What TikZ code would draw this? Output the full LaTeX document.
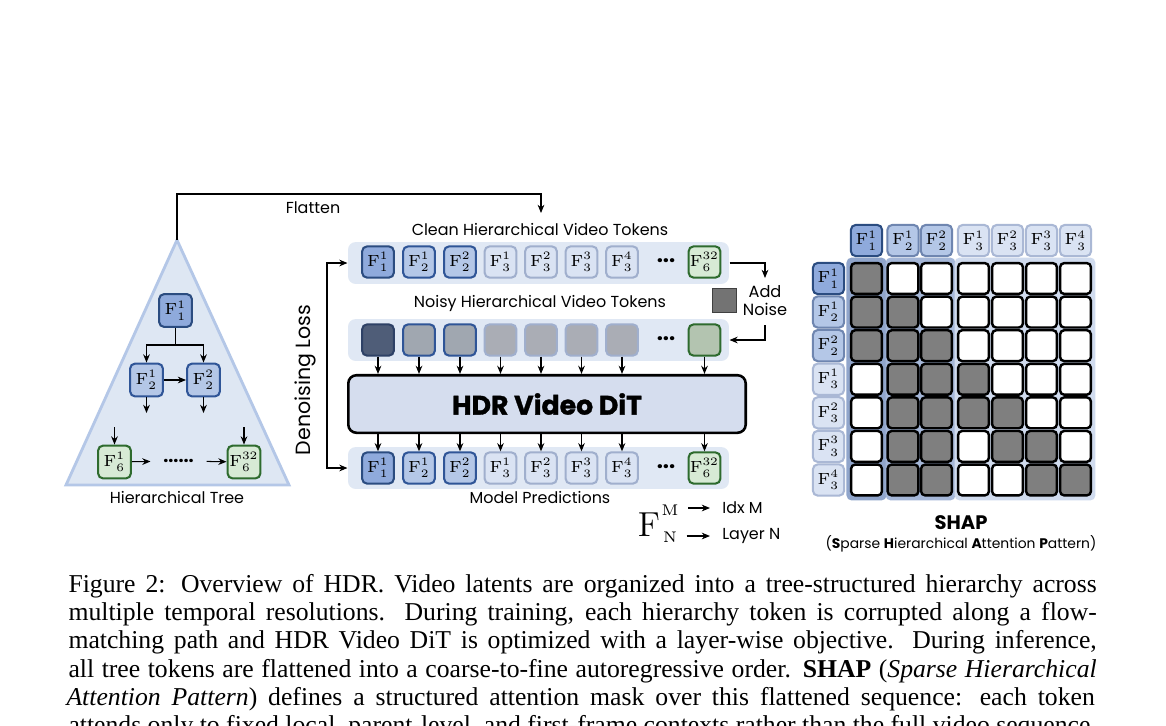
\RequirePackage{fix-cm}
\documentclass[tikz,border=0pt]{standalone}
\usepackage[no-math]{fontspec}
\setmainfont{Liberation Serif}
\newfontfamily\pop{Poppins}
\newfontfamily\popheavy{Poppins}[BoldFeatures={FakeBold=1.2}]
\usetikzlibrary{arrows.meta,calc}
\definecolor{aFill}{HTML}{8FAADC}\definecolor{aLine}{HTML}{2B4C80}
\definecolor{bFill}{HTML}{B4C7E7}\definecolor{bLine}{HTML}{2F5597}
\definecolor{cFill}{HTML}{DAE3F3}\definecolor{cLine}{HTML}{A0AFCD}
\definecolor{gFill}{HTML}{D7EAD5}\definecolor{gLine}{HTML}{2E6B2E}
\definecolor{rowBg}{HTML}{E0E8F4}
\definecolor{treeFill}{HTML}{DEE7F3}\definecolor{treeLine}{HTML}{B4C7E7}
\definecolor{ditFill}{HTML}{D5DDEE}
\definecolor{nA}{HTML}{4F5D78}\definecolor{nAl}{HTML}{2E4166}
\definecolor{nB}{HTML}{A0A7B0}
\definecolor{nC}{HTML}{AAADB5}
\definecolor{nG}{HTML}{B3C4B0}
\definecolor{cellGray}{HTML}{7F7F7F}
\definecolor{grpA}{HTML}{90A5CB}\definecolor{grpB}{HTML}{A5B7D8}\definecolor{grpC}{HTML}{D0DBEE}
\definecolor{hbLine}{HTML}{6F86B0}\definecolor{hcLine}{HTML}{AAB8D5}
\newcommand\Fm[2]{$\mathrm{F}^{#1}_{#2}$}
\newcommand\tokfont{\fontsize{6.3}{7}\selectfont}
\newcommand\labfont{\pop\fontsize{6.2}{7}\selectfont}
\tikzset{
  arr/.style={-{Stealth[length=3.2pt,width=2.6pt]}, line width=0.4pt},
  tokbase/.style={rounded corners=2pt, minimum width=12.4pt, minimum height=12.2pt, line width=0.8pt, inner sep=0pt, font=\tokfont},
  lv1/.style={tokbase, fill=aFill, draw=aLine},
  lv2/.style={tokbase, fill=bFill, draw=bLine},
  lv3/.style={tokbase, fill=cFill, draw=cLine},
  lvg/.style={tokbase, fill=gFill, draw=gLine},
  nz1/.style={tokbase, fill=nA, draw=nAl},
  nz2/.style={tokbase, fill=nB, draw=bLine},
  nz3/.style={tokbase, fill=nC, draw=cLine},
  nzg/.style={tokbase, fill=nG, draw=gLine},
  treetok/.style={minimum width=12.8pt, minimum height=12.8pt},
  rowbox/.style={rounded corners=3pt, fill=rowBg, minimum width=148.2pt, minimum height=16.3pt, inner sep=0pt},
  lab/.style={font=\labfont, inner sep=1pt},
  dots/.style={font=\pop\bfseries\fontsize{8.5}{8}\selectfont, inner sep=0pt},
  cellbox/.style={rounded corners=1.6pt, minimum size=12.0pt, line width=0.95pt, draw=black, inner sep=0pt},
  hdr/.style={rounded corners=2pt, minimum size=12.2pt, line width=0.8pt, inner sep=0pt, font=\tokfont},
  hA/.style={hdr, fill=aFill, draw=aLine},
  hB/.style={hdr, fill=bFill, draw=hbLine},
  hC/.style={hdr, fill=cFill, draw=hcLine},
  grp/.style={rounded corners=2pt, inner sep=0pt, minimum height=94.5pt},
}
\begin{document}
\begin{tikzpicture}[x=0.389pt,y=-0.389pt]
\useasboundingbox (0,0) rectangle (1166,725);
\fill[white] (0,0) rectangle (1166,725);
\clip (0,0) rectangle (1166,725);

% ---------------- tree ----------------
\draw[draw=treeLine, fill=treeFill, line width=1.1pt, line join=miter] (177,240) coordinate (tapex) -- (289,485) -- (66,485) -- cycle;
\node[lv1,treetok] (t11) at (175.5,310.5) {\Fm11};
\node[lv2,treetok] (t21) at (146.5,380) {\Fm12};
\node[lv2,treetok] (t22) at (203.5,380) {\Fm22};
\node[lvg,treetok] (t61) at (114.5,462) {\Fm16};
\node[lvg,treetok] (t632) at (244,462) {\Fm{32}6};
\coordinate (tj) at (175.5,345);
\draw[line width=0.4pt] (t11.south) -- (tj);
\draw[arr] (tj) -| (t21.north);
\draw[arr] (tj) -| (t22.north);
\draw[arr] (t21) -- (t22);
\coordinate (td1) at (146.5,413); \coordinate (td2) at (203.5,413);
\draw[arr] (t21.south) -- (td1);
\draw[arr] (t22.south) -- (td2);
\coordinate (tu1) at (114.5,427); \coordinate (tu2) at (244,427);
\draw[arr] (tu1) -- (t61.north);
\draw[arr] (tu2) -- (t632.north);
\node[font=\pop\bfseries\fontsize{7}{7}\selectfont, inner sep=0pt, minimum width=21.4pt] (tdots) at (178.5,461) {......};
\draw[arr] (t61) -- (tdots);
\draw[arr] (tdots) -- (t632);
\node[lab] (treelbl) at (177,497) {Hierarchical Tree};

% flatten
\coordinate (flatend) at (541,213);
\draw[arr] (tapex) -- (177,194) -| (flatend);
\node[lab] (flatlbl) at (313,208) {Flatten};

% ---------------- rows ----------------
\node[lab] (cleanlbl) at (540,229) {Clean Hierarchical Video Tokens};
\node[rowbox] (cleanbg) at (538.5,263) {};
\node[lv1] (c1) at (378,262) {\Fm11};
\node[lv2] (c2) at (419,262) {\Fm12};
\node[lv2] (c3) at (460,262) {\Fm22};
\node[lv3] (c4) at (500.5,262) {\Fm13};
\node[lv3] (c5) at (541,262) {\Fm23};
\node[lv3] (c6) at (581.5,262) {\Fm33};
\node[lv3] (c7) at (622,262) {\Fm43};
\node[dots] (c8) at (666,261) {...};
\node[lvg] (c9) at (704.5,262) {\Fm{32}6};

\node[lab] (noisylbl) at (540,303) {Noisy Hierarchical Video Tokens};
\node[rowbox] (noisybg) at (538.5,340) {};
\node[nz1] (n1) at (378,340) {};
\node[nz2] (n2) at (419,340) {};
\node[nz2] (n3) at (460,340) {};
\node[nz3] (n4) at (500.5,340) {};
\node[nz3] (n5) at (541,340) {};
\node[nz3] (n6) at (581.5,340) {};
\node[nz3] (n7) at (622,340) {};
\node[dots] (n8) at (666,339) {...};
\node[nzg] (n9) at (704.5,340) {};

% add noise
\coordinate (an1) at (765,263); \coordinate (an2) at (765,278); \coordinate (an3) at (765,325);
\draw[arr] (cleanbg.east) -- (an1) -- (an2);
\draw[arr] (an3) |- (noisybg.east);
\node[draw=black!75, fill=black!55, line width=0.3pt, minimum size=9.4pt, inner sep=0pt] (nsq) at (724.5,300.5) {};
\node[font=\pop\fontsize{6.3}{7}\selectfont, align=center, inner sep=0pt] (addn) at (765,301) {Add\\Noise};

% DiT
\node[draw=black, fill=ditFill, line width=1pt, rounded corners=3.2pt, minimum width=154.6pt, minimum height=22.4pt, inner sep=0pt, font=\popheavy\bfseries\fontsize{10.4}{11}\selectfont] (dit) at (547,404) {HDR Video DiT};
\foreach \i in {1,...,7,9}{
  \draw[arr] (n\i.south) -- (n\i.south |- dit.north);
}

\node[rowbox] (predbg) at (538.5,468) {};
\node[lv1] (p1) at (378,468) {\Fm11};
\node[lv2] (p2) at (419,468) {\Fm12};
\node[lv2] (p3) at (460,468) {\Fm22};
\node[lv3] (p4) at (500.5,468) {\Fm13};
\node[lv3] (p5) at (541,468) {\Fm23};
\node[lv3] (p6) at (581.5,468) {\Fm33};
\node[lv3] (p7) at (622,468) {\Fm43};
\node[dots] (p8) at (666,467) {...};
\node[lvg] (p9) at (704.5,468) {\Fm{32}6};
\foreach \i in {1,...,7,9}{
  \draw[arr] (p\i.north |- dit.south) -- (p\i.north);
}
\node[lab] (predlbl) at (540,497) {Model Predictions};

% denoising loss
\coordinate (dlt) at (327,263); \coordinate (dlb) at (327,468);
\draw[{Stealth[length=3.2pt,width=2.6pt]}-{Stealth[length=3.2pt,width=2.6pt]}, line width=0.4pt] (cleanbg.west) -- (dlt) -- (dlb) -- (predbg.west);
\node[font=\pop\fontsize{8}{9}\selectfont, rotate=90, inner sep=0pt] (dllbl) at (305,380) {Denoising Loss};

% legend
\node[font=\fontsize{13.5}{14}\selectfont, inner sep=0pt] (legF) at (649,525) {$\mathrm{F}$};
\node[font=\fontsize{6}{6}\selectfont, inner sep=0.5pt] (legM) at (670,510) {$\mathrm{M}$};
\node[font=\fontsize{6}{6}\selectfont, inner sep=0.5pt] (legN) at (670,537) {$\mathrm{N}$};
\node[lab, anchor=west, inner xsep=4.6pt] (idx) at (710,508) {Idx M};
\node[lab, anchor=west, inner xsep=4.6pt] (layer) at (710,536) {Layer N};
\draw[arr] (legM.east |- idx.west) ++(8,0) -- (idx.west);
\draw[arr] (legN.east |- layer.west) ++(8,0) -- (layer.west);

% ---------------- SHAP ----------------
\def\cxs{{866.5,903,936.5,973.5,1007.5,1041.5,1075.5}}
\node[grp, fill=grpA, minimum width=15.6pt] (g1) at (866.5,379) {};
\node[grp, fill=grpB, minimum width=27.2pt] (g2) at (920.5,379) {};
\node[grp, fill=grpC, minimum width=54.8pt] (g3) at (1025,379) {};

\node[hA] (hc1) at (866.5,240.5) {\Fm11};
\node[hB] (hc2) at (903,240.5) {\Fm12};
\node[hB] (hc3) at (936.5,240.5) {\Fm22};
\node[hC] (hc4) at (973.5,240.5) {\Fm13};
\node[hC] (hc5) at (1007.5,240.5) {\Fm23};
\node[hC] (hc6) at (1041.5,240.5) {\Fm33};
\node[hC] (hc7) at (1075.5,240.5) {\Fm43};

\node[hA] (hr1) at (828.5,278.5) {\Fm11};
\node[hB] (hr2) at (828.5,312) {\Fm12};
\node[hB] (hr3) at (828.5,345.6) {\Fm22};
\node[hC] (hr4) at (828.5,379.2) {\Fm13};
\node[hC] (hr5) at (828.5,412.8) {\Fm23};
\node[hC] (hr6) at (828.5,446.4) {\Fm33};
\node[hC] (hr7) at (828.5,480) {\Fm43};

\foreach \r/\row in {1/{1,0,0,0,0,0,0},2/{1,1,0,0,0,0,0},3/{1,1,1,0,0,0,0},4/{0,1,1,1,0,0,0},5/{0,1,1,1,1,0,0},6/{0,1,1,0,1,1,0},7/{0,1,1,0,0,1,1}}{
  \foreach \v [count=\c] in \row {
    \pgfmathsetmacro\cx{\cxs[\c-1]}
    \pgfmathsetmacro\ry{278.5+(\r-1)*33.58}
    \ifnum\v=1
      \node[cellbox, fill=cellGray] (m\r-\c) at (\cx,\ry) {};
    \else
      \node[cellbox, fill=white] (m\r-\c) at (\cx,\ry) {};
    \fi
  }
}
\node[font=\pop\bfseries\fontsize{7.6}{8}\selectfont, inner sep=0pt] (shap) at (961,523) {SHAP};
\node[font=\pop\fontsize{5.4}{6}\selectfont, inner sep=0pt] (shapfull) at (961,544) {(\textbf{S}parse \textbf{H}ierarchical \textbf{A}ttention \textbf{P}attern)};

% ---------------- caption ----------------
\begin{scope}[every node/.style={anchor=base west, inner sep=0pt, font=\fontsize{10}{11}\selectfont}]
\node (cap1) at (68,592) {\makebox[400pt][s]{Figure 2: Overview of HDR. Video latents are organized into a tree-structured hierarchy across}};
\node (cap2) at (68,620.3) {\makebox[400pt][s]{multiple temporal resolutions. During training, each hierarchy token is corrupted along a flow-}};
\node (cap3) at (68,648.6) {\makebox[400pt][s]{matching path and HDR Video DiT is optimized with a layer-wise objective. During inference,}};
\node (cap4) at (68,677) {\makebox[400pt][s]{all tree tokens are flattened into a coarse-to-fine autoregressive order. \textbf{SHAP} (\textit{Sparse Hierarchical}}};
\node (cap5) at (66,705.3) {\makebox[400pt][s]{\textit{Attention Pattern}) defines a structured attention mask over this flattened sequence: each token}};
\node (cap6) at (68,733.6) {\makebox[400pt][s]{attends only to fixed local, parent-level, and first-frame contexts rather than the full video sequence.}};
\end{scope}
\end{tikzpicture}
\end{document}
